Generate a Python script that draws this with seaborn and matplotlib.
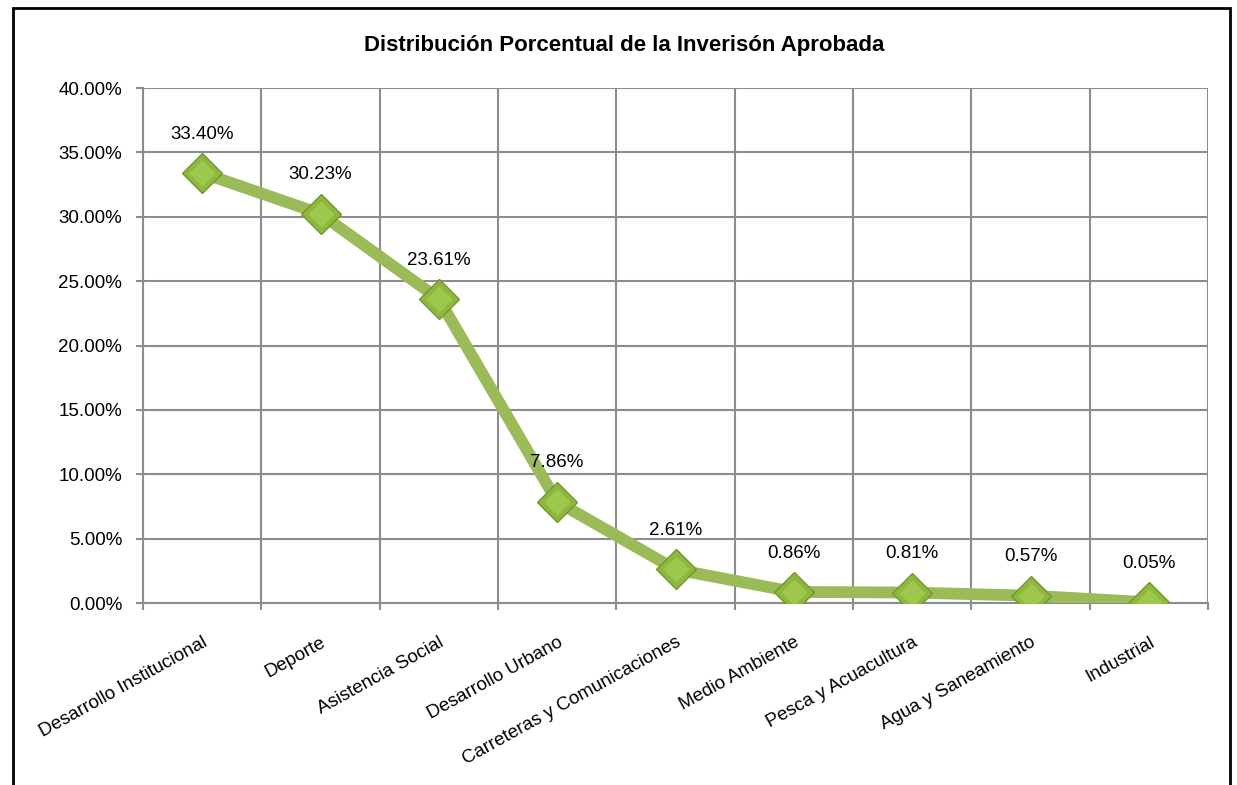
import pandas as pd
import matplotlib.pyplot as plt
import seaborn as sns
from matplotlib.patches import Rectangle

# Data
sectores = ['Desarrollo Institucional', 'Deporte', 'Asistencia Social', 'Desarrollo Urbano',
            'Carreteras y Comunicaciones', 'Medio Ambiente', 'Pesca y Acuacultura',
            'Agua y Saneamiento', 'Industrial']
porcentajes = [33.40, 30.23, 23.61, 7.86, 2.61, 0.86, 0.81, 0.57, 0.05]
y_ticks = [0, 5, 10, 15, 20, 25, 30, 35, 40]

titulo = 'Distribución Porcentual de la Inverisón Aprobada'

df = pd.DataFrame({'Sector': sectores, 'Porcentaje': porcentajes})
df['pos'] = range(len(df))

sns.set_style('white')
plt.rcParams['font.family'] = ['Liberation Sans', 'DejaVu Sans']
plt.rcParams['text.color'] = 'black'
plt.rcParams['xtick.labelcolor'] = 'black'
plt.rcParams['ytick.labelcolor'] = 'black'

fig = plt.figure(figsize=(12.37, 7.85), dpi=100)
ax = fig.add_axes([143 / 1237, 1 - 603 / 785, (1208 - 143) / 1237, (603 - 88) / 785])

# outer frame (bottom edge falls outside the image)
fig.patches.append(Rectangle((13 / 1237, -0.05), (1230 - 13) / 1237, 1.05 - 8 / 785,
                             transform=fig.transFigure, fill=False, edgecolor='black',
                             linewidth=2))

green = '#9bbb59'
sns.lineplot(data=df, x='pos', y='Porcentaje', ax=ax, color=green, linewidth=8.5,
             marker='D', markersize=20, markerfacecolor='#8db83d',
             markeredgecolor='#74952f', markeredgewidth=1.0, zorder=3)
# soft highlight in the middle of each diamond
ax.plot(df['pos'], df['Porcentaje'], linestyle='none', marker='D', markersize=13,
        markerfacecolor='#a2cc52', markeredgecolor='none', alpha=0.8, zorder=4)

for x, y in zip(df['pos'], df['Porcentaje']):
    ax.annotate(f'{y:.2f}%', (x, y), xytext=(0, 28), textcoords='offset points',
                ha='center', va='center', fontsize=13.5)

ax.set_xlim(-0.5, len(df) - 0.5)
ax.set_ylim(0, 40)
ax.set_yticks(y_ticks)
ax.set_yticklabels([f'{v:.2f}%' for v in y_ticks], fontsize=13.5)

ax.set_xticks(df['pos'])
ax.set_xticklabels(df['Sector'], rotation=29, ha='right', rotation_mode='anchor',
                   fontsize=13.5)
ax.set_xticks([i - 0.5 for i in range(len(df) + 1)], minor=True)

grid_c = '#8c8c8c'
ax.grid(True, which='major', axis='y', color=grid_c, linewidth=1.5)
ax.grid(True, which='minor', axis='x', color=grid_c, linewidth=1.5)
ax.grid(False, which='major', axis='x')
ax.set_axisbelow(True)

ax.tick_params(axis='x', which='major', length=0, pad=22)
ax.tick_params(axis='x', which='minor', length=5, color=grid_c, width=1.5, direction='out',
               bottom=True)
ax.tick_params(axis='y', length=5, color=grid_c, width=1.5, direction='out', left=True,
               pad=10)

for side in ['top', 'right']:
    ax.spines[side].set_visible(False)
for side in ['left', 'bottom']:
    ax.spines[side].set_color(grid_c)
    ax.spines[side].set_linewidth(1.5)

ax.set_xlabel('')
ax.set_ylabel('')

fig.text(0.505, 1 - 45 / 785, titulo, ha='center', va='center', fontsize=16,
         fontweight='bold')

fig.savefig('out.png', dpi=100, facecolor='white')
